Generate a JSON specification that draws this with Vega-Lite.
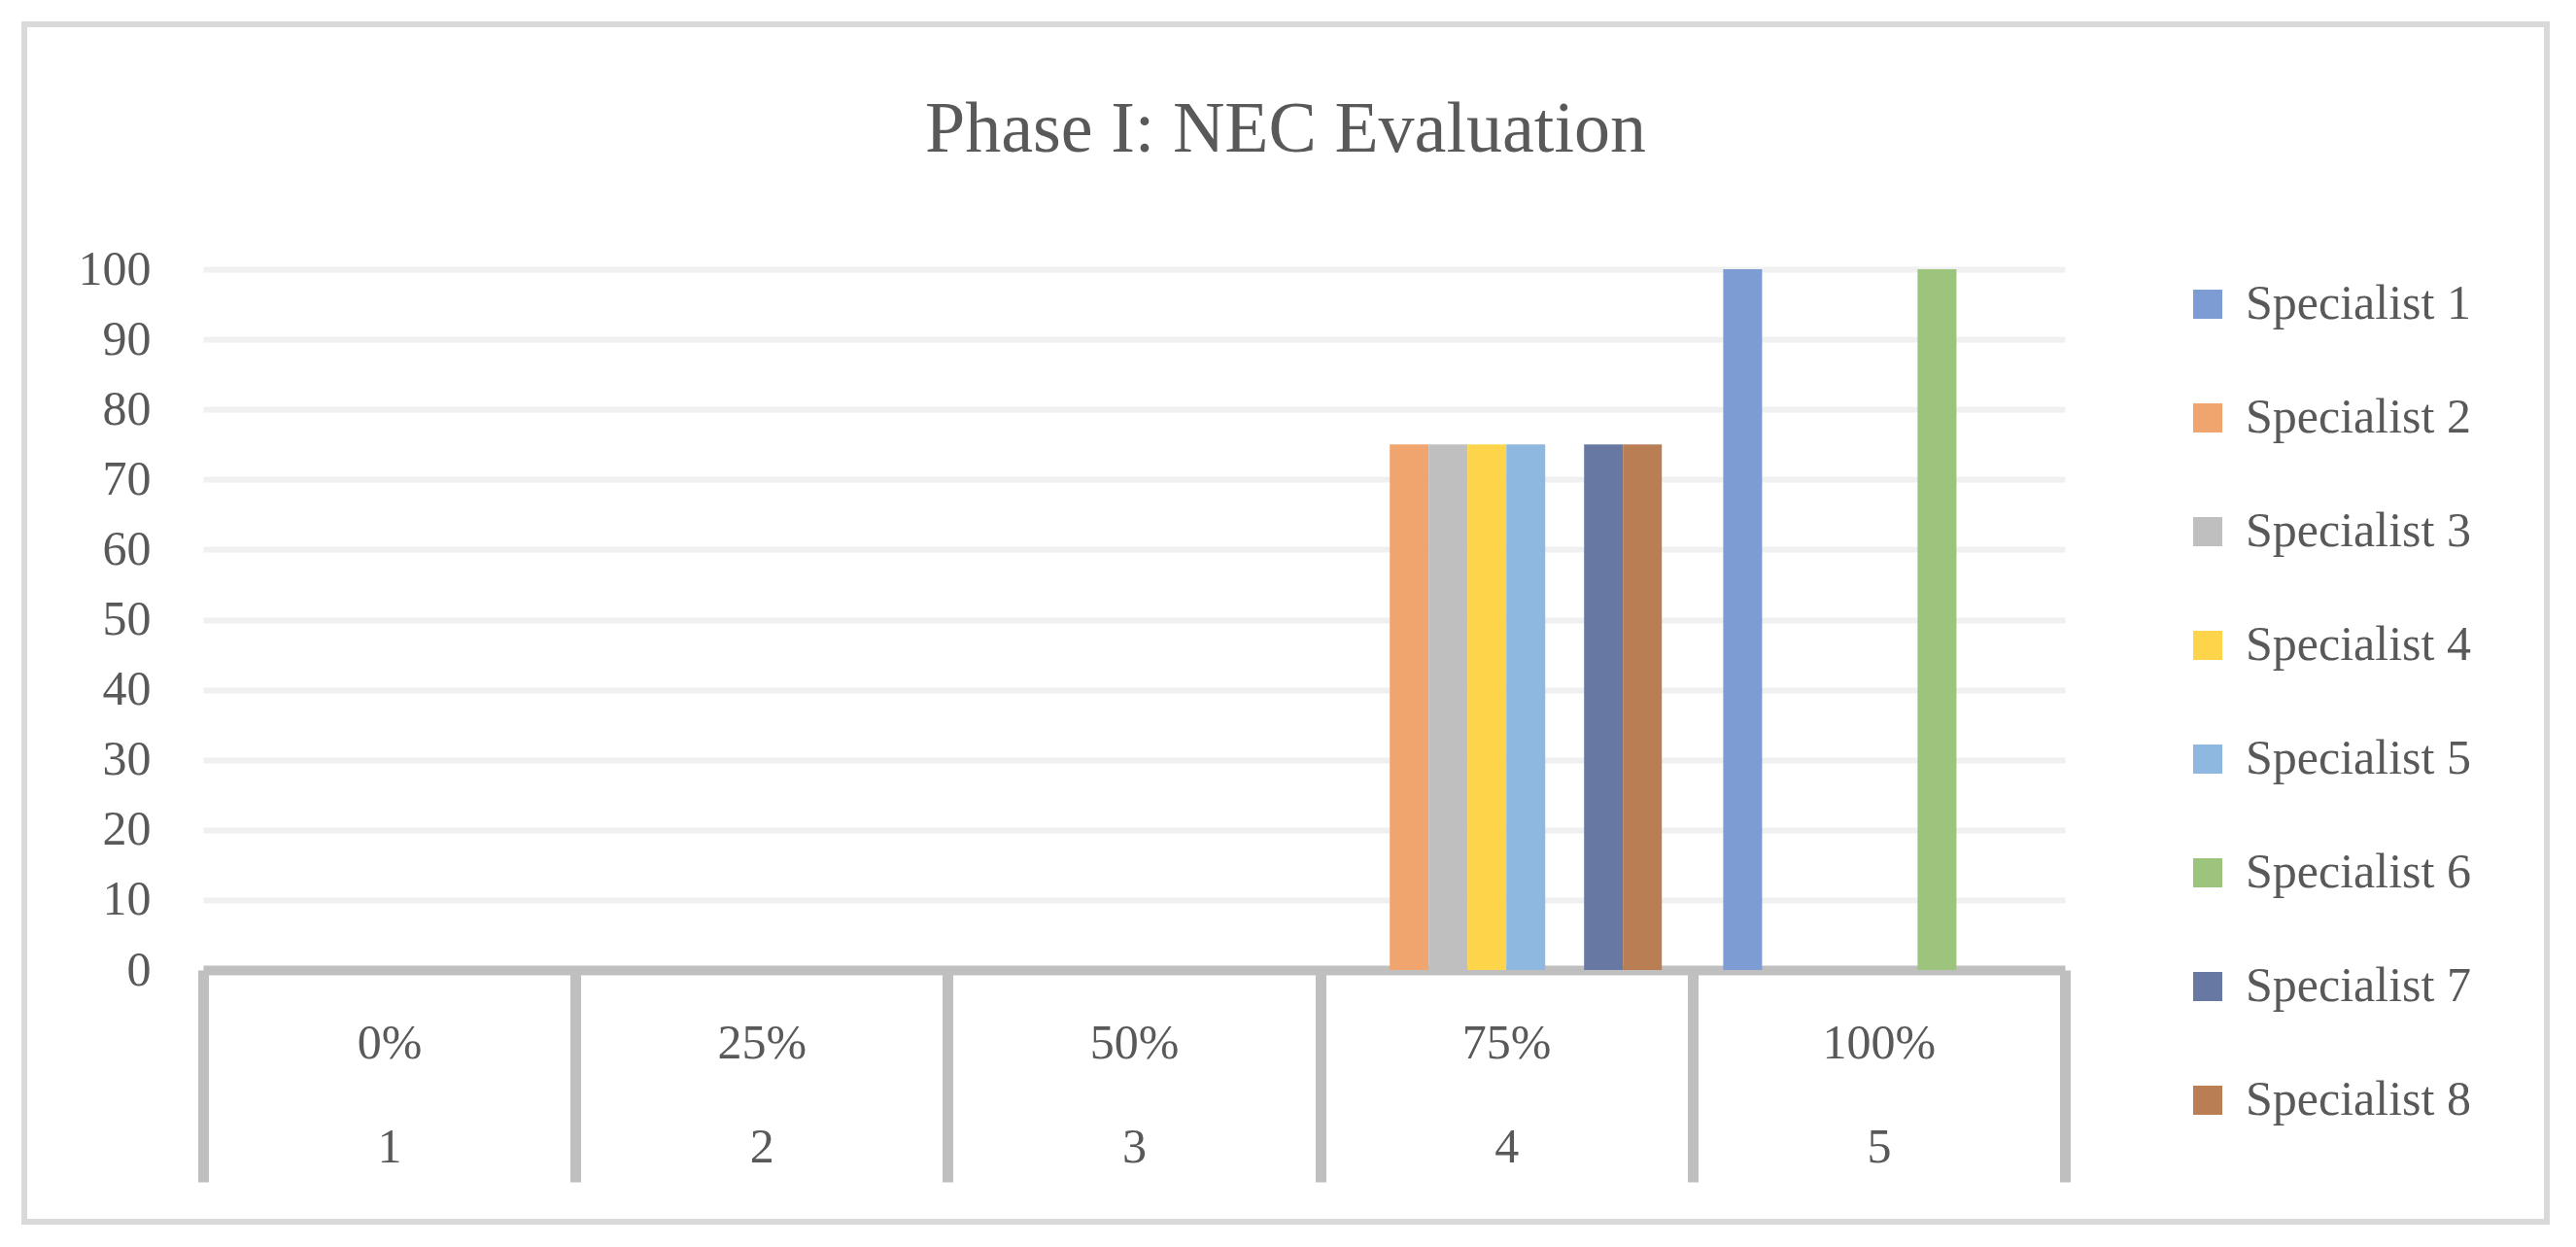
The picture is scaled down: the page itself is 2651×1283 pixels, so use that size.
{
  "$schema": "https://vega.github.io/schema/vega-lite/v6.json",
  "width": 2596,
  "height": 1232,
  "autosize": {"type": "none"},
  "padding": {"left": 25, "top": 25, "right": 30, "bottom": 26},
  "background": "white",
  "config": {
    "view": {"stroke": "#d9d9d9", "strokeWidth": 6},
    "font": "Liberation Serif"
  },
  "title": {
    "text": "Phase I: NEC Evaluation",
    "fontSize": 74,
    "font": "Liberation Serif",
    "fontWeight": "normal",
    "color": "#595959",
    "anchor": "middle",
    "frame": "group",
    "orient": "top",
    "baseline": "alphabetic",
    "offset": -205
  },
  "data": {
    "values": [
      {"level": "0%", "specialist": "Specialist 1", "value": 0},
      {"level": "0%", "specialist": "Specialist 2", "value": 0},
      {"level": "0%", "specialist": "Specialist 3", "value": 0},
      {"level": "0%", "specialist": "Specialist 4", "value": 0},
      {"level": "0%", "specialist": "Specialist 5", "value": 0},
      {"level": "0%", "specialist": "Specialist 6", "value": 0},
      {"level": "0%", "specialist": "Specialist 7", "value": 0},
      {"level": "0%", "specialist": "Specialist 8", "value": 0},
      {"level": "25%", "specialist": "Specialist 1", "value": 0},
      {"level": "25%", "specialist": "Specialist 2", "value": 0},
      {"level": "25%", "specialist": "Specialist 3", "value": 0},
      {"level": "25%", "specialist": "Specialist 4", "value": 0},
      {"level": "25%", "specialist": "Specialist 5", "value": 0},
      {"level": "25%", "specialist": "Specialist 6", "value": 0},
      {"level": "25%", "specialist": "Specialist 7", "value": 0},
      {"level": "25%", "specialist": "Specialist 8", "value": 0},
      {"level": "50%", "specialist": "Specialist 1", "value": 0},
      {"level": "50%", "specialist": "Specialist 2", "value": 0},
      {"level": "50%", "specialist": "Specialist 3", "value": 0},
      {"level": "50%", "specialist": "Specialist 4", "value": 0},
      {"level": "50%", "specialist": "Specialist 5", "value": 0},
      {"level": "50%", "specialist": "Specialist 6", "value": 0},
      {"level": "50%", "specialist": "Specialist 7", "value": 0},
      {"level": "50%", "specialist": "Specialist 8", "value": 0},
      {"level": "75%", "specialist": "Specialist 1", "value": 0},
      {"level": "75%", "specialist": "Specialist 2", "value": 75},
      {"level": "75%", "specialist": "Specialist 3", "value": 75},
      {"level": "75%", "specialist": "Specialist 4", "value": 75},
      {"level": "75%", "specialist": "Specialist 5", "value": 75},
      {"level": "75%", "specialist": "Specialist 6", "value": 0},
      {"level": "75%", "specialist": "Specialist 7", "value": 75},
      {"level": "75%", "specialist": "Specialist 8", "value": 75},
      {"level": "100%", "specialist": "Specialist 1", "value": 100},
      {"level": "100%", "specialist": "Specialist 2", "value": 0},
      {"level": "100%", "specialist": "Specialist 3", "value": 0},
      {"level": "100%", "specialist": "Specialist 4", "value": 0},
      {"level": "100%", "specialist": "Specialist 5", "value": 0},
      {"level": "100%", "specialist": "Specialist 6", "value": 100},
      {"level": "100%", "specialist": "Specialist 7", "value": 0},
      {"level": "100%", "specialist": "Specialist 8", "value": 0}
    ]
  },
  "mark": {"type": "bar"},
  "encoding": {
    "x": {
      "field": "level",
      "type": "nominal",
      "scale": {
        "domain": ["0%", "25%", "50%", "75%", "100%"],
        "range": [184, 2100],
        "paddingInner": 0,
        "paddingOuter": 0
      },
      "axis": {
        "title": null,
        "orient": "bottom",
        "offset": -259,
        "domainColor": "#bfbfbf",
        "domainWidth": 10,
        "ticks": true,
        "tickBand": "extent",
        "tickSize": 218,
        "tickWidth": 11,
        "tickColor": "#bfbfbf",
        "labelAngle": 0,
        "labelFontSize": 50,
        "labelColor": "#595959",
        "labelFont": "Liberation Serif",
        "labelBaseline": "alphabetic",
        "labelLineHeight": 107,
        "labelPadding": -128,
        "labelExpr": "indexof(['0%','25%','50%','75%','100%'], datum.label) < 0 ? '' : [datum.label, '' + (indexof(['0%','25%','50%','75%','100%'], datum.label) + 1)]",
        "grid": false
      }
    },
    "xOffset": {
      "field": "specialist",
      "type": "nominal",
      "scale": {
        "domain": ["Specialist 1", "Specialist 2", "Specialist 3", "Specialist 4", "Specialist 5", "Specialist 6", "Specialist 7", "Specialist 8"],
        "paddingInner": 0,
        "paddingOuter": 0.79
      }
    },
    "y": {
      "field": "value",
      "type": "quantitative",
      "scale": {"domain": [0, 100], "range": [973, 252], "nice": false, "zero": true},
      "axis": {
        "title": null,
        "values": [0, 10, 20, 30, 40, 50, 60, 70, 80, 90, 100],
        "domain": false,
        "ticks": false,
        "offset": -130,
        "labelPadding": 0,
        "labelFontSize": 50,
        "labelColor": "#595959",
        "labelFont": "Liberation Serif",
        "grid": true,
        "gridColor": "#f0f0f0",
        "gridWidth": 6
      }
    },
    "color": {
      "field": "specialist",
      "type": "nominal",
      "scale": {
        "domain": ["Specialist 1", "Specialist 2", "Specialist 3", "Specialist 4", "Specialist 5", "Specialist 6", "Specialist 7", "Specialist 8"],
        "range": ["#7e9cd4", "#f0a56e", "#bfbfbf", "#fed44b", "#8eb8e0", "#9cc47d", "#6779a2", "#b97e53"]
      },
      "legend": {
        "title": null,
        "orient": "none",
        "legendX": 2222,
        "legendY": 263,
        "symbolType": "square",
        "symbolSize": 900,
        "symbolStrokeWidth": 0,
        "symbolOpacity": 1,
        "labelFontSize": 50,
        "labelLimit": 500,
        "labelColor": "#595959",
        "labelFont": "Liberation Serif",
        "labelOffset": 14,
        "rowPadding": 67,
        "padding": 0
      }
    }
  }
}
